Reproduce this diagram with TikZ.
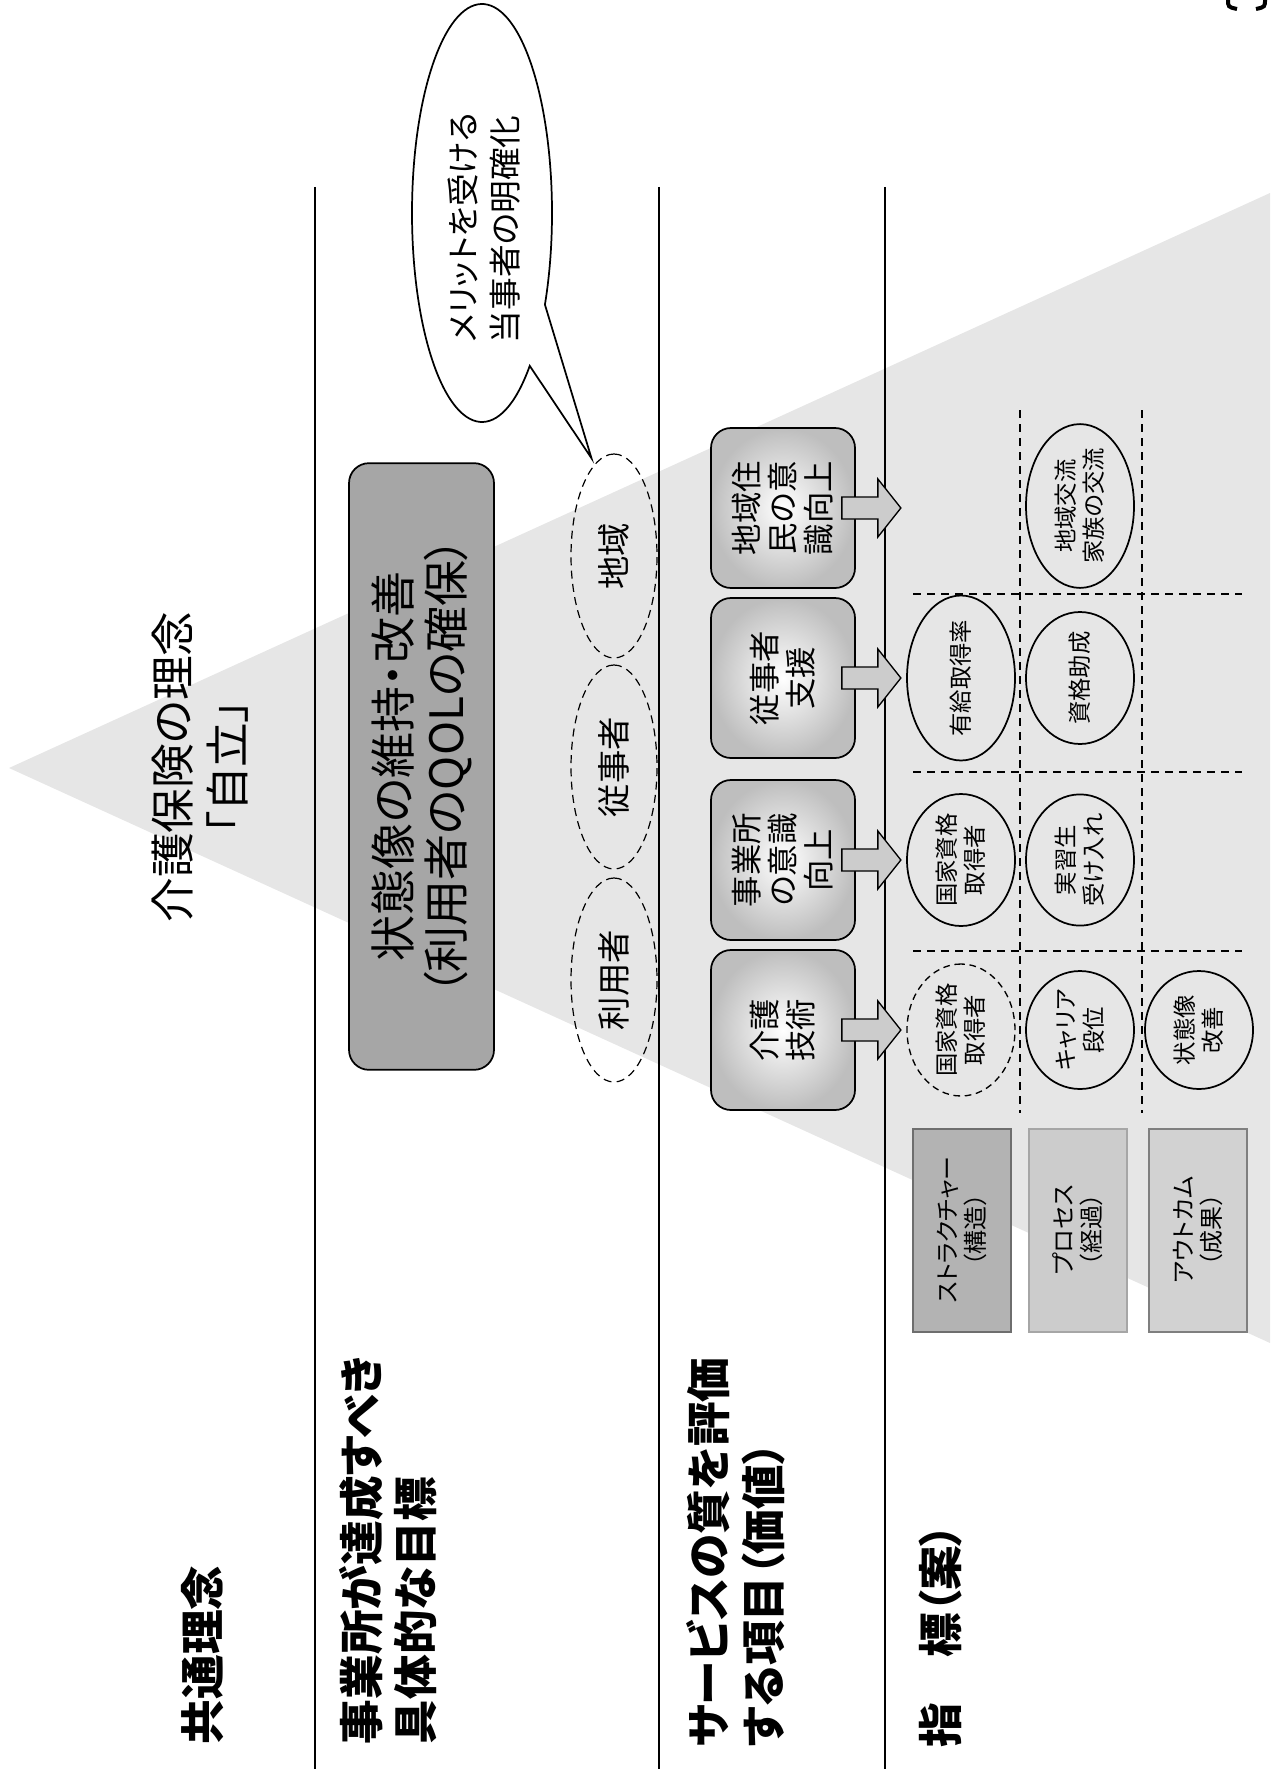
\documentclass[tikz,border=0pt]{standalone}
\usepackage{fontspec}
\setmainfont{Noto Sans CJK JP}[RawFeature=+palt]
\usepackage{tikz}
\usetikzlibrary{shapes.geometric}
\tikzset{every picture/.style={line width=1.3pt}}
\definecolor{tri}{HTML}{E6E6E6}
\definecolor{goalgray}{HTML}{A6A6A6}
\definecolor{boxgray}{HTML}{BEBEBE}
\definecolor{arrowgray}{HTML}{CCCCCC}
\definecolor{lgS}{HTML}{B3B3B3}
\definecolor{lgSb}{HTML}{6E6E6E}
\definecolor{lgP}{HTML}{CCCCCC}
\definecolor{lgPb}{HTML}{A6A6A6}
\definecolor{lgO}{HTML}{D2D2D2}
\definecolor{lgOb}{HTML}{7F7F7F}
\tikzset{
  head/.style={rotate=90,anchor=west,inner sep=0pt,align=left,font=\fontsize{33.5}{41}\selectfont\bfseries},
  idea/.style={rotate=90,inner sep=0pt,align=center,font=\fontsize{33.5}{41}\selectfont},
  goalbox/.style={rotate=90,draw,fill=goalgray,rounded corners=15pt,minimum width=455pt,minimum height=108.75pt,inner sep=0pt,align=center,font=\fontsize{34.5}{40}\selectfont},
  party/.style={ellipse,draw,line width=0.9pt,dash pattern=on 6pt off 4pt,rotate=90,minimum width=153pt,minimum height=64.5pt,inner sep=0pt,font=\fontsize{25}{30}\selectfont},
  note/.style={rotate=90,anchor=west,inner sep=0pt,align=left,font=\fontsize{24.5}{32}\selectfont},
  item/.style={rotate=90,draw,rounded corners=15pt,minimum width=120pt,minimum height=108pt,inner sep=0pt,inner color=white,outer color=boxgray,align=center,font=\fontsize{23.5}{27}\selectfont},
  pointer/.style={draw,fill=arrowgray,line width=1pt},
  kpi/.style={ellipse,draw,rotate=90,minimum width=88.5pt,minimum height=81pt,inner sep=0pt,align=center,font=\fontsize{17.5}{21}\selectfont},
  kind/.style={rotate=90,minimum width=152.25pt,minimum height=73.5pt,inner sep=0pt,line width=1.5pt,align=center,font=\fontsize{18}{21}\selectfont},
  grid/.style={line width=1.5pt,dash pattern=on 6pt off 4.5pt}
}
\begin{document}
\begin{tikzpicture}[x=0.75pt,y=0.75pt,yscale=-1,xscale=1]
\useasboundingbox (0,0) rectangle (1276,1769);
\fill[tri] (9,768) -- (1270,193) -- (1270,1343) -- cycle ;
\draw    (315,187) -- (315,1769) ;
\draw    (659,187) -- (659,1769) ;
\draw    (885,187) -- (885,1769) ;
\draw[line width=3pt] (1237,9) .. controls (1228,7) .. (1228,-1) ;
\draw[line width=3pt] (1256,9) .. controls (1265,7) .. (1265,-1) ;

\draw (203,1745) node [head] (h-kyotsu) {共通理念};
\draw (388,1745) node [head] (h-goal) {事業所が達成すべき\\具体的な目標};
\draw (736,1748) node [head] (h-value) {サービスの質を評価\\する項目（価値）};
\draw (941,1748) node [head] (h-index) {指　標（案）};

\draw (200,767) node [idea] (idea) {介護保険の理念\\「自立」};
\draw (421.5,766.5) node [goalbox] (goal) {状態像の維持・改善\\（利用者のQOLの確保）};

\draw (614,980) node [party] (u-riyo) {利用者};
\draw (614,767) node [party] (u-juji) {従事者};
\draw (614,556) node [party] (u-chiiki) {地域};

\coordinate (tip) at ([shift={(-3,-6)}]u-chiiki.12);
\draw[fill=white] (482,213) ++(47:70 and 209) arc [start angle=47,end angle=386,x radius=70,y radius=209] -- (tip) -- cycle ;
\draw (484,344) node [note] (bubble) {メリットを受ける\\当事者の明確化};

\draw (783,1030) node [item] (b-kaigo) {介護\\技術};
\draw (783,860) node [item] (b-jigyo) {事業所\\の意識\\向上};
\draw (783,678) node [item] (b-juji) {従事者\\支援};
\draw (783,508) node [item] (b-chiiki) {地域住\\民の意\\識向上};
\foreach \b in {b-kaigo,b-jigyo,b-juji,b-chiiki}
  \draw[pointer] (\b.south) ++(-14,-11) -- ++(36,0) -- ++(0,-18) -- ++(23,29) -- ++(-23,29) -- ++(0,-18) -- ++(-36,0) -- cycle ;

\draw[grid] (1020,410) -- (1020,1113) ;
\draw[grid] (1142,410) -- (1142,1113) ;
\foreach \y in {594,772,951}
  \draw[grid] (913,\y) -- (1242,\y) ;

\draw (961,1030) node [kpi,line width=1pt,dash pattern=on 5pt off 3.5pt] (c-kaigo-1) {国家資格\\取得者};
\draw (1080,1030) node [kpi] (c-kaigo-2) {キャリア\\段位};
\draw (1199,1030) node [kpi] (c-kaigo-3) {状態像\\改善};
\draw (961,860) node [kpi] (c-jigyo-1) {国家資格\\取得者};
\draw (1080,860) node [kpi] (c-jigyo-2) {実習生\\受け入れ};
\draw (961,678) node [kpi] (c-juji-1) {有給取得率};
\draw (1080,678) node [kpi] (c-juji-2) {資格助成};
\draw (1080,506) node [kpi] (c-chiiki-2) {地域交流\\家族の交流};

\draw (962,1230) node [kind,draw=lgSb,fill=lgS] (leg-s) {ストラクチャー\\（構造）};
\draw (1078,1230) node [kind,draw=lgPb,fill=lgP] (leg-p) {プロセス\\（経過）};
\draw (1198,1230) node [kind,draw=lgOb,fill=lgO] (leg-o) {アウトカム\\（成果）};
\end{tikzpicture}
\end{document}
